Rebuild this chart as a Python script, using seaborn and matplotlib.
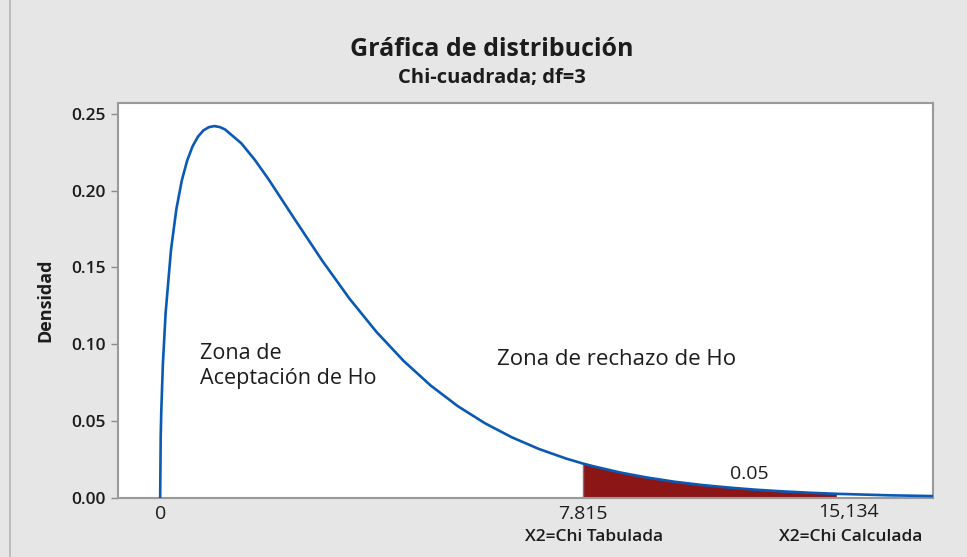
import matplotlib
matplotlib.use("Agg")
import pandas as pd
import matplotlib.pyplot as plt
from matplotlib.lines import Line2D
import seaborn as sns

# Chi-square (df=3) density
chi_x = [0, 0.01, 0.02, 0.05, 0.1, 0.2, 0.3, 0.4, 0.5, 0.6, 0.7, 0.8, 0.9, 1.0,
         1.1, 1.2, 1.5, 1.75, 2.0, 2.5, 3.0, 3.5, 4.0, 4.5, 5.0, 5.5, 6.0, 6.5,
         7.0, 7.5, 7.815, 8.0, 8.5, 9.0, 9.5, 10.0, 10.5, 11.0, 11.5, 12.0,
         12.5, 13.0, 13.5, 14.0, 14.5]
density = [0.0, 0.0397, 0.0559, 0.0870, 0.1200, 0.1614, 0.1881, 0.2066, 0.2197,
           0.2289, 0.2352, 0.2392, 0.2413, 0.2420, 0.2414, 0.2398, 0.2308, 0.2200,
           0.2076, 0.1807, 0.1542, 0.1297, 0.1080, 0.0892, 0.0732, 0.0598, 0.0487,
           0.0395, 0.0319, 0.0257, 0.0224, 0.0207, 0.0166, 0.0133, 0.0106, 0.0085,
           0.0068, 0.0054, 0.0043, 0.0034, 0.0027, 0.0022, 0.0017, 0.0014, 0.0011]

chi_tab = 7.815          # critical value
fill_end = 12.5          # where the shaded tail stops being drawn
alpha_label = "0.05"
y_ticks = [0.0, 0.05, 0.10, 0.15, 0.20, 0.25]
y_tick_labels = ["0.00", "0.05", "0.10", "0.15", "0.20", "0.25"]

df = pd.DataFrame({"x": chi_x, "dens": density})
tail = df[(df["x"] >= chi_tab) & (df["x"] <= fill_end)]

sns.set_style("white")
plt.rcParams["font.family"] = ["Open Sans", "DejaVu Sans"]

bg = "#e6e6e6"
txt = "#1c1c1c"
fig = plt.figure(figsize=(9.67, 5.57), dpi=100, facecolor=bg)
ax = fig.add_axes([0.122, 0.106, 0.843, 0.709])
ax.set_facecolor("white")

# shaded rejection tail
ax.fill_between(tail["x"], 0, tail["dens"], color="#8c1515", lw=0, zorder=2)
ax.plot([chi_tab, chi_tab], [0, tail["dens"].iloc[0]], color="#7a7a7a", lw=1, zorder=2)

# density curve
sns.lineplot(data=df, x="x", y="dens", ax=ax, color="#0a5ab4", linewidth=1.9,
             sort=True, zorder=3)

ax.set_xlim(-0.78, 14.29)
ax.set_ylim(0, 0.257)

ax.set_yticks(y_ticks)
ax.set_yticklabels(y_tick_labels, fontsize=12.5, fontweight="semibold", color=txt)
ax.set_xticks([0, chi_tab])
ax.set_xticklabels(["0", "7.815"], fontsize=14, color=txt)
ax.tick_params(axis="y", length=5, width=1, color="#8a8a8a", left=True, pad=4)
ax.tick_params(axis="x", length=0, pad=5)

for s in ax.spines.values():
    s.set_color("#9a9a9a")
    s.set_linewidth(1.5)

ax.set_xlabel("")
ax.set_ylabel("Densidad", fontsize=13, fontweight="bold", color=txt, labelpad=12)

# annotations inside the plot
ax.text(0.74, 0.0862, "Zona de\nAceptación de Ho", fontsize=15.5, color=txt,
        va="center", ha="left", linespacing=1.25)
ax.text(6.23, 0.090, "Zona de rechazo de Ho", fontsize=16, color=txt,
        va="center", ha="left")
ax.text(10.9, 0.0155, alpha_label, fontsize=14, color=txt, va="center", ha="center")

# labels under the axis
ax.text(12.72, -0.0092, "15,134", fontsize=14, color=txt, va="center", ha="center")
ax.text(chi_tab + 0.2, -0.0255, "X2=Chi Tabulada", fontsize=12.5,
        fontweight="semibold", color=txt, va="center", ha="center")
ax.text(12.77, -0.0255, "X2=Chi Calculada", fontsize=12.5,
        fontweight="semibold", color=txt, va="center", ha="center")

# titles
fig.text(0.509, 0.911, "Gráfica de distribución", fontsize=18, fontweight="bold",
         color=txt, ha="center", va="center")
fig.text(0.509, 0.860, "Chi-cuadrada; df=3", fontsize=14.5, fontweight="bold",
         color=txt, ha="center", va="center")

# window border on the left
fig.add_artist(Line2D([0.0105, 0.0105], [0, 1], color="#b5b5b5", lw=1.2,
                      transform=fig.transFigure))

plt.savefig("out.png", dpi=100, facecolor=bg)
